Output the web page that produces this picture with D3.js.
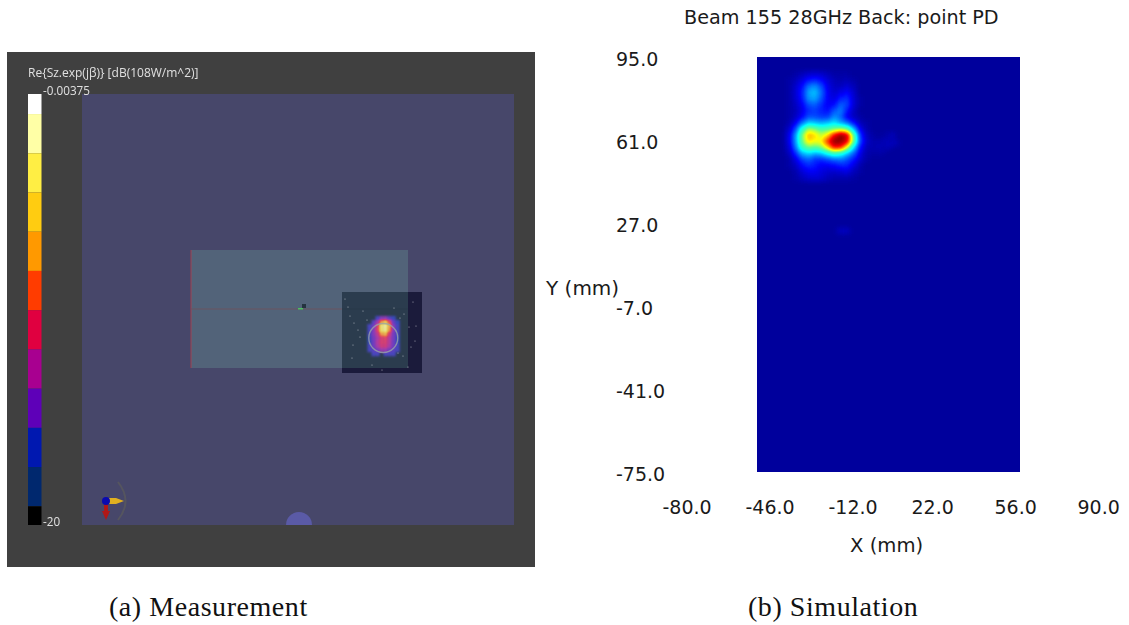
<!DOCTYPE html>
<html lang="en">
<head>
<meta charset="UTF-8">
<title>Beam 155 28GHz Back: point PD</title>
<script src="https://d3js.org/d3.v7.min.js"></script>
<style>
  html, body { margin: 0; background: #fff; }
  svg { display: block; }
  .sim text { font-family: "DejaVu Sans", sans-serif; font-size: 19px; fill: #1a1a1a; }
  .panel text { font-family: "Open Sans", sans-serif; fill: #e0e0e0; }
  .caption { font-family: "Liberation Serif", serif; font-size: 28px; letter-spacing: 0.55px; fill: #111; }
</style>
</head>
<body>
<svg id="chart" width="1129" height="625"></svg>
<script>
// simulation panel
const xTicks = [-80, -46, -12, 22, 56, 90];
const yTicks = [95, 61, 27, -7, -41, -75];
const heatCols = [-34.8, -32.3, -29.8, -27.3, -24.8, -22.3, -19.8, -17.3, -14.8, -12.3, -9.8, -7.3, -4.8, -2.3, 0.2, 2.7, 5.2];
const heatRows = [89.2, 86.7, 84.2, 81.7, 79.2, 76.7, 74.2, 71.7, 69.2, 66.7, 64.2, 61.7, 59.2, 56.7, 54.2, 51.7, 49.2, 46.7];
const heatValues = [
  [0, 1, 3, 5, 6, 5, 3, 1, 1, 1, 0, 0, 0, 0, 0, 0, 0],
  [1, 3, 7, 12, 14, 11, 6, 3, 2, 3, 1, 0, 0, 0, 0, 0, 0],
  [1, 5, 11, 22, 25, 18, 8, 4, 4, 6, 3, 0, 0, 0, 0, 0, 0],
  [1, 6, 13, 27, 30, 21, 9, 5, 8, 10, 5, 0, 0, 0, 0, 0, 0],
  [1, 5, 12, 25, 27, 19, 9, 7, 13, 15, 6, 1, 0, 0, 0, 0, 0],
  [1, 4, 9, 18, 20, 14, 9, 11, 20, 17, 6, 1, 0, 0, 0, 0, 0],
  [1, 3, 8, 14, 16, 13, 11, 19, 23, 12, 4, 0, 0, 0, 0, 0, 0],
  [1, 4, 10, 18, 18, 16, 16, 25, 20, 9, 4, 1, 0, 0, 0, 0, 0],
  [2, 9, 22, 32, 30, 28, 30, 34, 28, 22, 12, 3, 1, 0, 0, 0, 0],
  [5, 18, 42, 58, 54, 48, 50, 54, 58, 52, 30, 9, 2, 0, 0, 0, 0],
  [8, 26, 54, 72, 68, 60, 68, 88, 100, 92, 52, 16, 4, 1, 0, 1, 3],
  [8, 26, 52, 68, 64, 66, 84, 100, 100, 90, 54, 18, 5, 2, 2, 3, 2],
  [6, 22, 44, 52, 50, 54, 68, 86, 84, 62, 34, 12, 3, 2, 3, 2, 0],
  [3, 14, 28, 32, 28, 30, 38, 44, 40, 30, 20, 8, 2, 1, 1, 0, 0],
  [1, 7, 16, 20, 15, 14, 17, 20, 22, 18, 12, 5, 1, 0, 0, 0, 0],
  [1, 4, 10, 14, 12, 9, 9, 10, 13, 13, 7, 2, 0, 0, 0, 0, 0],
  [0, 2, 6, 9, 9, 7, 5, 5, 6, 7, 3, 1, 0, 0, 0, 0, 0],
  [0, 1, 3, 5, 6, 5, 3, 2, 2, 2, 1, 0, 0, 0, 0, 0, 0]
];
const faintX = [-15, -12.5, 1.5, 4, 6.5];
const faintY = [25, 25, 58, 60, 61];
const faintV = [4, 4, 2, 3, 3];
const jetStops = [0, 0.1, 0.36, 0.5, 0.64, 0.86, 1];
const jetColors = ["#00009c", "#0000ff", "#00ffff", "#55ff99", "#ffff00", "#ff0000", "#800000"];

// measurement panel (units are panel pixels from the corner of the plane)
const barEdges = [0, -0.93, -2.75, -4.57, -6.39, -8.21, -10.03, -11.85, -13.67, -15.49, -17.31, -19.13, -20];
const barColors = ["#ffffff", "#ffffa6", "#ffee44", "#ffcc11", "#ff9900", "#ff3c00", "#e00040", "#a80090", "#5e00b8", "#0018b0", "#00286e", "#000000"];
const sheets = [
  { x: 260, y: 198, w: 80, h: 81, fill: "#00001f", op: 0.62 },
  { x: 109, y: 156, w: 217, h: 118, fill: "#628a8e", op: 0.42 },
  { x: 260, y: 198, w: 66, h: 76, fill: "#0a1e28", op: 0.28 }
];
const blobCols = [285.5, 289.5, 293.5, 297.5, 301.5, 305.5, 309.5, 313.5];
const blobRows = [226, 230, 234, 238, 242, 246, 250, 254, 258, 262];
const blobValues = [
  [null, null, 22, 30, 32, 24, 20, null],
  [null, 24, 34, 62, 72, 50, 26, 20],
  [22, 27, 46, 82, 88, 64, 30, 22],
  [22, 30, 48, 80, 86, 60, 30, 22],
  [22, 30, 40, 62, 66, 44, 28, 22],
  [20, 28, 36, 46, 48, 38, 28, 20],
  [20, 27, 38, 46, 46, 38, 27, 20],
  [22, 27, 36, 44, 44, 36, 27, 22],
  [22, 24, 28, 34, 34, 28, 24, 22],
  [null, 22, 22, null, 22, 22, 22, null]
];
const speckX = [268, 272, 276, 281, 285, 278, 266, 271, 312, 318, 322, 327, 316, 331, 333, 321, 326, 290, 270, 334, 300, 263, 329];
const speckY = [222, 229, 236, 217, 226, 243, 213, 251, 214, 224, 220, 233, 259, 208, 247, 262, 273, 271, 264, 232, 276, 205, 253];

const svg = d3.select("#chart");

// ---- left panel
const panel = svg.append("g").attr("class", "panel").style("isolation", "isolate");
const px = d3.scaleLinear().domain([0, 432]).range([82, 514]);
const py = d3.scaleLinear().domain([0, 431]).range([94, 525]);
const barY = d3.scaleLinear().domain([0, -20]).range([94, 525]);

panel.append("rect").attr("x", 7).attr("y", 52).attr("width", 528).attr("height", 515).attr("fill", "#404040");
panel.append("rect").attr("x", px(0)).attr("y", py(0)).attr("width", px(432) - px(0)).attr("height", py(431) - py(0)).attr("fill", "#47476a");

const clipPlane = svg.append("defs").append("clipPath").attr("id", "plane");
clipPlane.append("rect").attr("x", px(0)).attr("y", py(0)).attr("width", px(432) - px(0)).attr("height", py(431) - py(0));
panel.append("circle").attr("clip-path", "url(#plane)").attr("cx", px(217)).attr("cy", py(431)).attr("r", 13).attr("fill", "#5a5aa6");

panel.selectAll("rect.sheet").data(sheets).join("rect").attr("class", "sheet")
  .attr("x", d => px(d.x)).attr("y", d => py(d.y))
  .attr("width", d => px(d.x + d.w) - px(d.x)).attr("height", d => py(d.y + d.h) - py(d.y))
  .attr("fill", d => d.fill).attr("fill-opacity", d => d.op);

panel.append("line").attr("x1", px(109)).attr("x2", px(109)).attr("y1", py(156)).attr("y2", py(274)).attr("stroke", "#a04050").attr("stroke-width", 1);
panel.append("line").attr("x1", px(109)).attr("x2", px(260)).attr("y1", py(215)).attr("y2", py(215)).attr("stroke", "#6a5560").attr("stroke-width", 1);
panel.append("line").attr("x1", px(260)).attr("x2", px(326)).attr("y1", py(215)).attr("y2", py(215)).attr("stroke", "#283848").attr("stroke-width", 1);
panel.append("rect").attr("x", px(220)).attr("y", py(210)).attr("width", 4).attr("height", 4).attr("fill", "#24333f");
panel.append("rect").attr("x", px(216)).attr("y", py(214)).attr("width", 5).attr("height", 1.5).attr("fill", "#4cc060");

panel.selectAll("circle.speck").data(speckX).join("circle").attr("class", "speck")
  .attr("cx", d => px(d)).attr("cy", (d, i) => py(speckY[i])).attr("r", 0.6).attr("fill", "#e4e8ea").attr("opacity", 0.7);

// colour bar
panel.selectAll("rect.band").data(barColors).join("rect").attr("class", "band")
  .attr("x", 28).attr("width", 13.5)
  .attr("y", (d, i) => barY(barEdges[i]))
  .attr("height", (d, i) => barY(barEdges[i + 1]) - barY(barEdges[i]))
  .attr("fill", d => d);
panel.append("text").attr("x", 28).attr("y", 77).attr("font-size", 12).text("Re{Sz.exp(jβ)} [dB(108W/m^2)]");
panel.append("text").attr("x", 43).attr("y", 95).attr("font-size", 11.7).text("-0.00375");
panel.append("text").attr("x", 43).attr("y", 526).attr("font-size", 11.7).text("-20");

// gizmo in the corner
const giz = panel.append("g").attr("transform", `translate(${px(24)},${py(407)})`);
giz.append("path").attr("d", "M12,-19 Q27,0 12,19").attr("fill", "none").attr("stroke", "#55555f").attr("stroke-width", 2);
giz.append("path").attr("d", "M3,-3 L10,-3 L18,0 L10,3 L3,3Z").attr("fill", "#e0b020");
giz.append("path").attr("d", "M-2,3 L2,3 L2,10 L4,10 L0,19 L-4,10 L-2,10Z").attr("fill", "#b01818");
giz.append("circle").attr("r", 4).attr("fill", "#0a0ab0");

// blob of the measured field
const bandScale = d3.scaleLinear().domain(d3.range(0, 12).map(i => i / 11 * 100)).range(barColors.slice().reverse());
const blobTable = d3.range(0, 33).map(i => d3.rgb(bandScale(i / 32 * 100)));
const defs = svg.select("defs");
function tableFilter(id, dev, table) {
  const f = defs.append("filter").attr("id", id).attr("x", "-20%").attr("y", "-20%").attr("width", "140%").attr("height", "140%")
    .attr("color-interpolation-filters", "sRGB");
  f.append("feGaussianBlur").attr("stdDeviation", dev);
  const t = f.append("feComponentTransfer");
  t.append("feFuncR").attr("type", "table").attr("tableValues", table.map(c => (c.r / 255).toFixed(3)).join(" "));
  t.append("feFuncG").attr("type", "table").attr("tableValues", table.map(c => (c.g / 255).toFixed(3)).join(" "));
  t.append("feFuncB").attr("type", "table").attr("tableValues", table.map(c => (c.b / 255).toFixed(3)).join(" "));
}
const grey = v => { const g = Math.round(v * 2.55); return `rgb(${g},${g},${g})`; };
tableFilter("blobMap", 1.3, blobTable);
const blobCells = blobValues.flatMap((row, j) => row.map((v, i) => ({ v, i, j }))).filter(d => d.v !== null);
panel.append("g").attr("filter", "url(#blobMap)").style("mix-blend-mode", "screen").attr("opacity", 0.92)
  .selectAll("rect").data(blobCells).join("rect")
  .attr("x", d => px(blobCols[d.i])).attr("y", d => py(blobRows[d.j]) - 4)
  .attr("width", 4.2).attr("height", 4.2).attr("fill", d => grey(d.v));
panel.append("circle").attr("cx", px(301.3)).attr("cy", py(244)).attr("r", 14.5).attr("fill", "none").attr("stroke", "#99a2a8").attr("stroke-width", 1.4).attr("opacity", 0.8);

// ---- right panel
const sim = svg.append("g").attr("class", "sim");
const xHeat = d3.scaleLinear().domain([-46, 56]).range([757, 1020]);
const yHeat = d3.scaleLinear().domain([-75, 95]).range([472, 57]);
const xLabel = d3.scaleLinear().domain([-80, 90]).range([662, 1077]);
const yLabel = d3.scaleLinear().domain([-75, 95]).range([474, 59]);

const jet = d3.scaleLinear().domain(jetStops).range(jetColors);
const jetTable = d3.range(0, 65).map(i => d3.rgb(jet(i / 64)));
tableFilter("heatMap", 2.8, jetTable);
defs.append("clipPath").attr("id", "heatClip").append("rect")
  .attr("x", xHeat(-46)).attr("y", yHeat(95)).attr("width", xHeat(56) - xHeat(-46)).attr("height", yHeat(-75) - yHeat(95));

const heatG = sim.append("g").attr("clip-path", "url(#heatClip)").append("g").attr("filter", "url(#heatMap)");
heatG.append("rect").attr("x", xHeat(-46) - 20).attr("y", yHeat(95) - 20)
  .attr("width", xHeat(56) - xHeat(-46) + 40).attr("height", yHeat(-75) - yHeat(95) + 40).attr("fill", "#000");
const cellW = xHeat(2.5) - xHeat(0), cellH = yHeat(0) - yHeat(2.5);
const heatCells = heatValues.flatMap((row, j) => row.map((v, i) => ({ v, x: heatCols[i], y: heatRows[j] })));
heatG.selectAll("rect.cell").data(heatCells).join("rect").attr("class", "cell")
  .attr("x", d => xHeat(d.x)).attr("y", d => yHeat(d.y)).attr("width", cellW + 0.5).attr("height", cellH + 0.5)
  .attr("fill", d => grey(d.v));
heatG.selectAll("rect.faint").data(faintV).join("rect").attr("class", "faint")
  .attr("x", (d, i) => xHeat(faintX[i])).attr("y", (d, i) => yHeat(faintY[i])).attr("width", cellW).attr("height", cellH)
  .attr("fill", d => grey(d));

const xAxis = d3.axisBottom(xLabel).tickValues(xTicks).tickSize(0).tickPadding(0).tickFormat(d3.format(".1f"));
const yAxis = d3.axisLeft(yLabel).tickValues(yTicks).tickSize(0).tickPadding(0).tickFormat(d3.format(".1f"));
const xg = sim.append("g").attr("transform", "translate(0,497)").call(xAxis);
const yg = sim.append("g").attr("transform", "translate(616,0)").call(yAxis);
[xg, yg].forEach(g => {
  g.select(".domain").remove();
  g.attr("font-family", null).attr("font-size", null);
  g.selectAll("text").attr("text-anchor", "start").text(d => d3.format(".1f")(d).replace("\u2212", "-"));
});
yg.selectAll("text").attr("dy", "0.35em").attr("x", 0);
xg.selectAll("text").attr("dy", "0.9em").attr("y", 0);

sim.append("text").attr("x", 684).attr("y", 24).style("font-size", "19.2px").text("Beam 155 28GHz Back: point PD");
sim.append("text").attr("x", 546).attr("y", 295).style("font-size", "20px").text("Y (mm)");
sim.append("text").attr("x", 850).attr("y", 552).style("font-size", "19.6px").text("X (mm)");

svg.append("text").attr("class", "caption").attr("x", 109).attr("y", 616).text("(a) Measurement");
svg.append("text").attr("class", "caption").attr("x", 748).attr("y", 616).text("(b) Simulation");
</script>
</body>
</html>
